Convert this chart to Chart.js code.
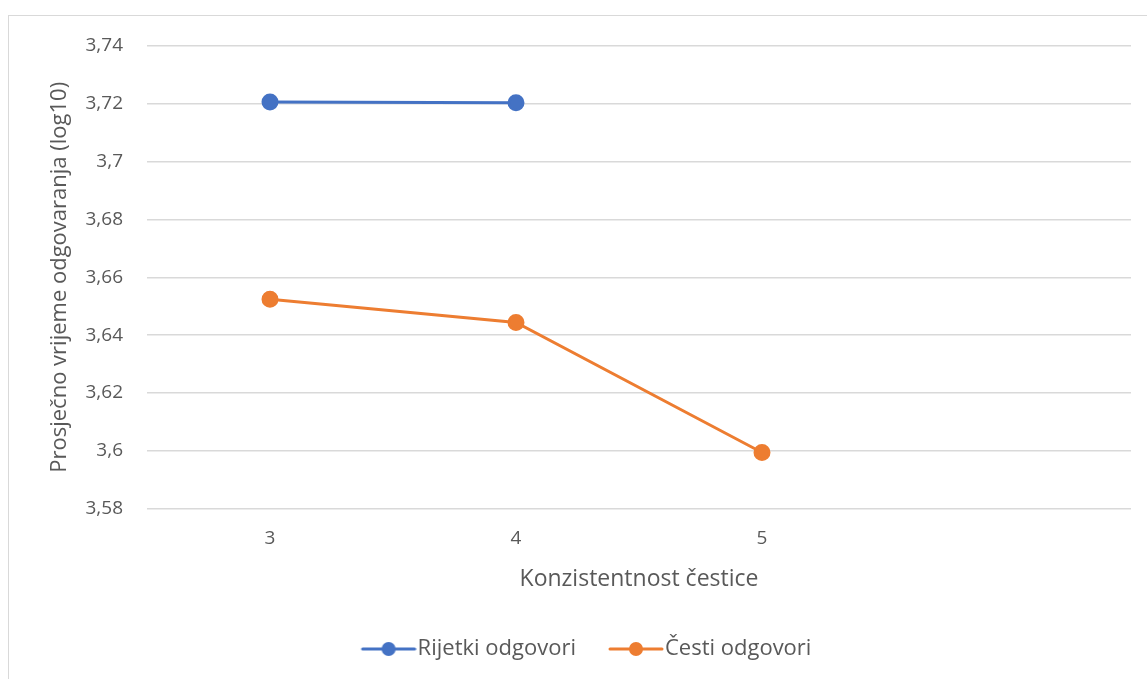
<!DOCTYPE html>
<html lang="hr">
<head>
<meta charset="UTF-8">
<title>Prosječno vrijeme odgovaranja</title>
<script src="https://cdn.jsdelivr.net/npm/chart.js@4.4.1/dist/chart.umd.min.js"></script>
<style>
  body { margin: 0; background: #fff; overflow: hidden; }
  .frame { position: absolute; left: 8px; top: 15px; width: 1160px; height: 700px; border: 1px solid #d9d9d9; }
  .wrap { position: absolute; left: 0; top: 0; width: 1147px; height: 679px; }
</style>
</head>
<body>
<div class="frame"></div>
<div class="wrap"><canvas id="chart" width="1147" height="679"></canvas></div>
<script>
// podaci
const categories = ['3', '4', '5', ''];
const rijetki = [3.7206, 3.7204, null, null];
const cesti = [3.6524, 3.6444, 3.5994, null];
const yTicks = [3.58, 3.60, 3.62, 3.64, 3.66, 3.68, 3.70, 3.72, 3.74];

const BLUE = '#4472c4';
const ORANGE = '#ed7d31';

// ikona legende: crta s kružićem
function legendIcon(color) {
  const c = document.createElement('canvas');
  c.width = 64; c.height = 16;
  const g = c.getContext('2d');
  g.strokeStyle = color; g.lineWidth = 3; g.lineCap = 'round';
  g.beginPath(); g.moveTo(10, 8); g.lineTo(62, 8); g.stroke();
  g.fillStyle = color;
  g.beginPath(); g.arc(36, 8, 7, 0, Math.PI * 2); g.fill();
  return c;
}

const fmt = v => (Math.round(v * 100) / 100).toString().replace('.', ',');

new Chart(document.getElementById('chart').getContext('2d'), {
  type: 'line',
  data: {
    labels: categories,
    datasets: [{
      label: 'Rijetki odgovori',
      data: rijetki,
      borderColor: BLUE,
      backgroundColor: BLUE,
      borderWidth: 3,
      pointRadius: 7,
      pointHoverRadius: 7,
      spanGaps: false
    }, {
      label: 'Česti odgovori',
      data: cesti,
      borderColor: ORANGE,
      backgroundColor: ORANGE,
      borderWidth: 3,
      pointRadius: 7,
      pointHoverRadius: 7,
      spanGaps: false
    }]
  },
  options: {
    responsive: false,
    animation: false,
    layout: { padding: { left: 43, right: 16, top: 46, bottom: 9 } },
    plugins: {
      tooltip: { enabled: false },
      legend: {
        position: 'bottom',
        labels: {
          usePointStyle: true,
          pointStyleWidth: 44,
          boxHeight: 16,
          color: '#595959',
          font: { family: 'Open Sans', size: 22 },
          padding: 34,
          generateLabels: chart => chart.data.datasets.map((ds, i) => ({
            text: ds.label,
            pointStyle: legendIcon(ds.borderColor),
            fontColor: '#595959',
            lineWidth: 0,
            datasetIndex: i
          }))
        }
      }
    },
    scales: {
      x: {
        offset: true,
        grid: { display: false },
        border: { display: false },
        ticks: { color: '#595959', font: { family: 'Open Sans', size: 19 }, padding: 11 },
        title: { display: true, text: 'Konzistentnost čestice', color: '#595959', font: { family: 'Open Sans', size: 23 }, padding: { top: 4, bottom: 11 } }
      },
      y: {
        min: 3.58,
        max: 3.74,
        afterBuildTicks: axis => { axis.ticks = yTicks.map(v => ({ value: v })); },
        afterFit: axis => { axis.width = 104; },
        grid: { color: '#d9d9d9', lineWidth: 1.5, drawTicks: false },
        border: { display: false },
        ticks: { color: '#595959', font: { family: 'Open Sans', size: 19 }, padding: 24, callback: v => fmt(v) },
        title: { display: true, text: 'Prosječno vrijeme odgovaranja (log10)', color: '#595959', font: { family: 'Open Sans', size: 22 } }
      }
    }
  }
});
</script>
</body>
</html>
